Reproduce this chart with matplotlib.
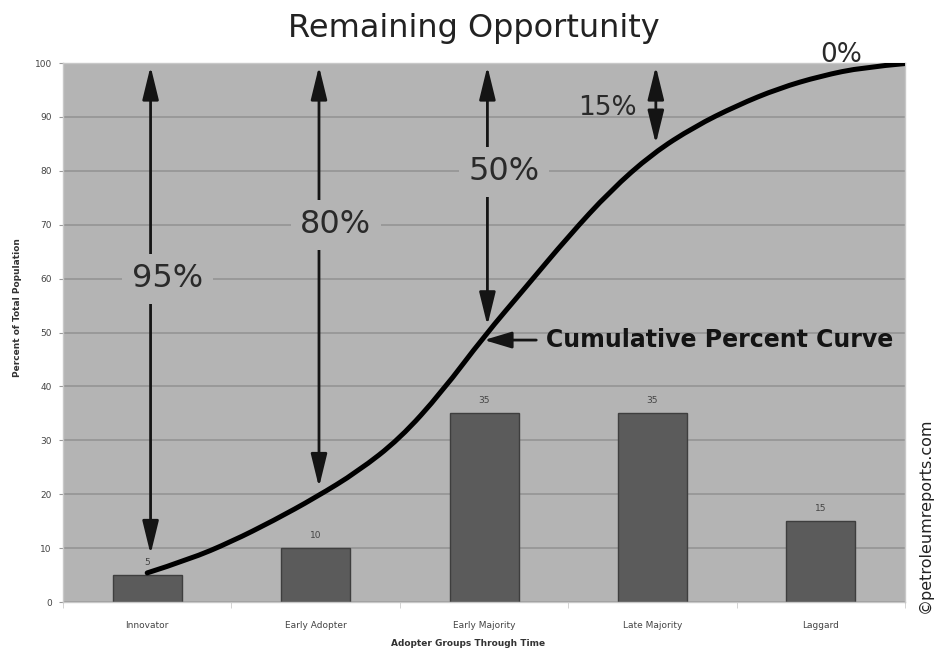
import numpy as np
import matplotlib
matplotlib.use('Agg')
import matplotlib.pyplot as plt
from matplotlib.path import Path
from matplotlib.patches import PathPatch

#Adopter groups and the share of population in each
categories = ['Innovator', 'Early Adopter', 'Early Majority', 'Late Majority', 'Laggard']
shares = [5, 10, 35, 35, 15]

#Cumulative percent curve, read along the category axis
curve_x = [0, 0.25, 0.5, 0.75, 1.0, 1.25, 1.5, 1.75, 2.0, 2.25, 2.5, 2.75, 3.0,
           3.25, 3.5, 3.75, 4.0, 4.25, 4.5]
curve_y = [5.4, 7.9, 11.2, 15.1, 19.4, 24.2, 30.3, 39.0, 49.3, 58.5, 67.8, 76.3, 83.2,
           88.2, 92.1, 95.3, 97.6, 99.2, 99.9]

#Remaining opportunity callouts
remaining = [95, 80, 50, 15]
remaining_labels = ['95%', '80%', '50%', '15%']

bg = '#b4b4b4'
bar_color = '#5b5b5b'
ink = '#141414'

fig = plt.figure(figsize=(9.43, 6.49), dpi=100)
ax = fig.add_axes([0.0668, 0.0724, 0.893, 0.8305])
ax.set_facecolor(bg)

ind = np.arange(len(categories))
ax.bar(ind, shares, 0.41, color=bar_color, edgecolor='#3e3e3e', linewidth=1, zorder=2)
for i, v in enumerate(shares):
    ax.annotate(str(v), (ind[i], v), xytext=(0, 6), textcoords='offset points',
                ha='center', va='bottom', fontsize=6.5, color='#444444')

#smooth curve: the read points act as quadratic control points
pts = np.column_stack([curve_x, curve_y])
verts = [pts[0]]
codes = [Path.MOVETO]
for i in range(1, len(pts) - 1):
    end = pts[i + 1] if i == len(pts) - 2 else (pts[i] + pts[i + 1]) / 2
    verts += [pts[i], end]
    codes += [Path.CURVE3, Path.CURVE3]
ax.add_patch(PathPatch(Path(verts, codes), facecolor='none', edgecolor='black',
                       lw=3.6, capstyle='round', zorder=4))

ax.set_xlim(-0.5, 4.5)
ax.set_ylim(0, 100)
ax.set_yticks(np.arange(0, 101, 10))
ax.set_xticks(ind)
ax.set_xticklabels(categories)
ax.set_xticks(np.arange(-0.5, 4.6, 1), minor=True)
ax.tick_params(axis='y', labelsize=6.5, labelcolor='#444444', length=3, color='#999999', pad=5)
ax.tick_params(axis='x', which='major', labelsize=6.5, labelcolor='#444444', length=0, pad=14)
ax.tick_params(axis='x', which='minor', length=4, color='#cccccc')
ax.yaxis.grid(True, color='#999999', lw=1.4, zorder=1)
ax.set_axisbelow(True)
for s in ax.spines.values():
    s.set_color('#c8c8c8')
    s.set_linewidth(1)

#Double headed arrows from the top down to the curve
tip_shrink = [15, 5, 5, 0]
label_pos = [(0.12, 60.0), (1.12, 70.0), (2.12, 79.8), (2.73, 91.6)]
label_size = [23, 23, 23, 19]
for i, p in enumerate(remaining):
    x = ind[i] + 0.02
    ax.annotate('', xy=(x, 100 - p), xytext=(x, 99.4),
                arrowprops=dict(arrowstyle='<|-|>,head_length=1.35,head_width=0.33',
                                mutation_scale=15, lw=2.0, color=ink,
                                shrinkA=0, shrinkB=tip_shrink[i]), zorder=5)
    lx, ly = label_pos[i]
    box = None
    if i < 3:
        box = dict(boxstyle='square,pad=0.3', facecolor=bg, edgecolor='none')
    ax.text(lx, ly, remaining_labels[i], ha='center', va='center', fontsize=label_size[i],
            color='#2a2a2a', bbox=box, zorder=6)

ax.text(4.12, 101.5, '0%', ha='center', va='center', fontsize=19, color='#2a2a2a',
        clip_on=False, zorder=6)

ax.annotate('', xy=(2.0, 48.6), xytext=(2.31, 48.6),
            arrowprops=dict(arrowstyle='-|>,head_length=1.2,head_width=0.36',
                            mutation_scale=14, lw=2.0, color=ink, shrinkA=0, shrinkB=0))
ax.text(2.37, 48.6, 'Cumulative Percent Curve', ha='left', va='center',
        fontsize=17, fontweight='bold', color=ink)

fig.text(473.5 / 943, 1 - 28 / 649, 'Remaining Opportunity', ha='center', va='center',
         fontsize=23, color='#222222')
fig.text(18 / 943, 1 - 308 / 649, 'Percent of Total Population', rotation=90,
         ha='center', va='center', fontsize=6.5, fontweight='bold', color='#333333')
fig.text(468 / 943, 1 - 643 / 649, 'Adopter Groups Through Time', ha='center', va='center',
         fontsize=6.5, fontweight='bold', color='#333333')
fig.text(925 / 943, 1 - 515 / 649, '\u00a9petroleumreports.com', rotation=90,
         ha='center', va='center', fontsize=11.5, color='#222222')

plt.savefig('out.png', dpi=100)
